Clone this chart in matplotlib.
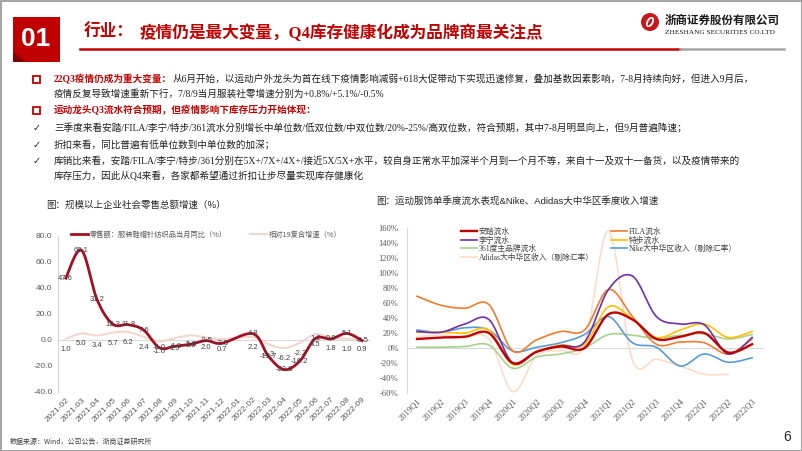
import numpy as np
import matplotlib as mpl
mpl.use('Agg')
import matplotlib.pyplot as plt
from matplotlib.patches import Rectangle, Circle, Polygon, Ellipse
from matplotlib.transforms import IdentityTransform

W, H = 802, 451
CJK = 'Noto Sans CJK SC'
SERIF = ['Liberation Serif', CJK, 'DejaVu Sans']
SANS = ['Liberation Sans', CJK, 'DejaVu Sans']
plt.rcParams['font.family'] = [CJK, 'DejaVu Sans']

# ---- left chart: monthly apparel retail growth
months = ['2021-02', '2021-03', '2021-04', '2021-05', '2021-06', '2021-07', '2021-08',
          '2021-09', '2021-10', '2021-11', '2021-12', '2022-01', '2022-02', '2022-03',
          '2022-04', '2022-05', '2022-06', '2022-07', '2022-08', '2022-09']
retail_yoy = [47.6, 69.1, 31.2, 12.3, 11.8, 7.6, -6.0, -4.8, -3.3, -0.5, -2.5, np.nan,
              4.8, -12.7, -22.8, -16.2, 1.2, 0.8, 5.1, -0.5]
retail_cagr19 = [1.0, 5.0, 3.4, 5.7, 6.2, 2.4, -1.0, 1.5, 3.5, 2.0, 0.7, np.nan,
                 2.2, -3.3, -6.2, -2.2, 4.5, 1.8, 1.0, 0.9]
left_names = ['零售额：服装鞋帽针纺织品当月同比（%）', '相对19复合增速（%）']

# ---- right chart: quarterly sell-through / revenue growth (%)
quarters = ['2019Q1', '2019Q2', '2019Q3', '2019Q4', '2020Q1', '2020Q2', '2020Q3', '2020Q4',
            '2021Q1', '2021Q2', '2021Q3', '2021Q4', '2022Q1', '2022Q2', '2022Q3']
anta = [12, 14, 15, 20, -20, -5, 2, 0, 45, 38, 12, 15, 20, -6, 5]
lining = [22, 21, 32, 38, -20, -5, 3, 8, 78, 96, 42, 32, 31, -8, 14]
b361 = [1, 1, 2, 4, -27, -12, -8, 0, 18, 17, 13, 17, 19, 12, 18]
adidas = [15, 17, 15, 12, -58, -10, -3, 5, 156, -16, -15, -24, -35, -35, np.nan]
fila = [69, 57, 53, 58, -4, 11, 22, 24, 78, 42, 5, 8, 7, -8, 12]
xtep = [21, 21, 20, 24, -22, -5, 4, 5, 55, 39, 14, 24, 32, 14, 22]
nike = [24, 21, 27, 24, -4, 1, 7, 18, 42, 7, 1, -24, -8, -19, -13]
right_names = ['安踏流水', '李宁流水', '361度主品牌流水', 'Adidas大中华区收入（剔除汇率）',
               'FILA流水', '特步流水', 'Nike大中华区收入（剔除汇率）']
right_colors = ['#c00000', '#7030a0', '#a9d18e', '#fbdccb', '#ed7d31', '#ffc000', '#5b9bd5']


def smooth(y, n=24):
    # Excel-like smoothed line (Bezier through the points)
    y = np.asarray(y, dtype=float)
    x = np.arange(len(y), dtype=float)
    m = ~np.isnan(y)
    pts = np.column_stack([x[m], y[m]])
    P = np.vstack([pts[0], pts, pts[-1]])
    out = []
    t = np.linspace(0, 1, n, endpoint=False)[:, None]
    for i in range(1, len(P) - 2):
        p0, p1, p2, p3 = P[i - 1], P[i], P[i + 1], P[i + 2]
        c1 = p1 + (p2 - p0) / 6
        c2 = p2 - (p3 - p1) / 6
        seg = ((1 - t) ** 3) * p1 + 3 * ((1 - t) ** 2) * t * c1 + 3 * (1 - t) * t ** 2 * c2 + t ** 3 * p2
        out.append(seg)
    out.append(pts[-1:])
    out = np.vstack(out)
    return out[:, 0], out[:, 1]


def fx(x):
    return x / W


def fy(y):
    return 1 - y / H


fig = plt.figure(figsize=(W / 100, H / 100), dpi=100)
renderer = fig.canvas.get_renderer()

# ---- slide frame and header
fig.patches.append(Rectangle((0.5, 0.5), W - 1, H - 1, transform=IdentityTransform(),
                             fill=False, edgecolor='#a6a6a6', lw=1.5))
fig.patches.append(Rectangle((13, H - 62), 47, 45, transform=IdentityTransform(),
                             facecolor='#c00000', edgecolor='none'))
fig.patches.append(Polygon([(13, H - 62), (26, H - 62), (13, H - 52)], closed=True,
                           transform=IdentityTransform(), facecolor='#7f0000', edgecolor='none'))
fig.text(fx(36), fy(39), '01', color='white', fontsize=19, fontweight='bold',
         family=['Liberation Sans Narrow', 'Liberation Sans'], ha='center', va='center')
fig.text(fx(84), fy(33), '行业：', color='#c00000', fontsize=12, fontweight='bold',
         family=SERIF, ha='left', va='center')
fig.text(fx(140), fy(33), '疫情仍是最大变量，Q4库存健康化成为品牌商最关注点', color='#c00000',
         fontsize=12, fontweight='bold', family=SERIF, ha='left', va='center')
fig.lines.append(plt.Line2D([fx(80), fx(680)], [fy(49), fy(49)], transform=fig.transFigure,
                            color='#c00000', lw=1.8))
fig.lines.append(plt.Line2D([fx(680), fx(784)], [fy(49), fy(49)], transform=fig.transFigure,
                            color='#a6a6a6', lw=1.8))

# logo
fig.patches.append(Circle((650, H - 22), 9, transform=IdentityTransform(),
                          facecolor='#c8161d', edgecolor='none'))
fig.patches.append(Ellipse((650, H - 22), 7, 11, angle=-30, transform=IdentityTransform(),
                           facecolor='white', edgecolor='none'))
fig.patches.append(Ellipse((650, H - 22), 3, 8, angle=-30, transform=IdentityTransform(),
                           facecolor='#c8161d', edgecolor='none'))
fig.text(fx(665), fy(20), '浙商证券股份有限公司', fontsize=8.3, fontweight='bold',
         color='#1a1a1a', ha='left', va='center')
fig.text(fx(665), fy(33), 'ZHESHANG SECURITIES CO.LTD', fontsize=5.2, family=SERIF,
         color='#1a1a1a', ha='left', va='center')

# ---- bullet text
BODY = 6.9
DARK = '#1f1f1f'
RED = '#c00000'


def seg_line(x, y, parts):
    for s, c, w in parts:
        t = fig.text(fx(x), fy(y), s, color=c, fontsize=BODY, fontweight=w,
                     family=SERIF, ha='left', va='center')
        x += t.get_window_extent(renderer).width


def square(y):
    fig.patches.append(Rectangle((33, H - y - 3.5), 7, 7, transform=IdentityTransform(),
                                 fill=False, edgecolor=RED, lw=1.3))


def check(y):
    fig.text(fx(33), fy(y), '✓', fontsize=7, color=DARK, family=['DejaVu Sans'],
             ha='left', va='center')


square(79)
seg_line(54, 79, [('22Q3疫情仍成为重大变量：', RED, 'bold'),
                  ('从6月开始，以运动户外龙头为首在线下疫情影响减弱+618大促带动下实现迅速修复，'
                   '叠加基数因素影响，7-8月持续向好，但进入9月后，', DARK, 'normal')])
seg_line(54, 94, [('疫情反复导致增速重新下行，7/8/9当月服装社零增速分别为+0.8%/+5.1%/-0.5%', DARK, 'normal')])
square(110)
seg_line(54, 110, [('运动龙头Q3流水符合预期，但疫情影响下库存压力开始体现：', RED, 'bold')])
check(128)
seg_line(54, 128, [('三季度来看安踏/FILA/李宁/特步/361流水分别增长中单位数/低双位数/中双位数/20%-25%/高双位数，'
                    '符合预期，其中7-8月明显向上，但9月普遍降速；', DARK, 'normal')])
check(145)
seg_line(54, 145, [('折扣来看，同比普遍有低单位数到中单位数的加深；', DARK, 'normal')])
check(161)
seg_line(54, 161, [('库销比来看，安踏/FILA/李宁/特步/361分别在5X+/7X+/4X+/接近5X/5X+水平，'
                    '较自身正常水平加深半个月到一个月不等，来自十一及双十一备货，以及疫情带来的', DARK, 'normal')])
seg_line(54, 176, [('库存压力，因此从Q4来看，各家都希望通过折扣让步尽量实现库存健康化', DARK, 'normal')])

# chart titles
fig.text(fx(46), fy(205), '图：规模以上企业社会零售总额增速（%）', fontsize=6.8, color='#262626',
         ha='left', va='center')
fig.text(fx(376), fy(201), '图：运动服饰单季度流水表现&Nike、Adidas大中华区季度收入增速',
         fontsize=6.8, color='#262626', family=SANS, ha='left', va='center')

# ---- left chart
ax1 = fig.add_axes([fx(58), fy(392), (370 - 58) / W, (392 - 236) / H])
xs, ys = smooth(retail_cagr19)
l2, = ax1.plot(xs, ys, color='#f2d6c9', lw=1.4, label=left_names[1], zorder=2)
xs, ys = smooth(retail_yoy)
l1, = ax1.plot(xs, ys, color='#a50f24', lw=2.0, label=left_names[0], zorder=3)
ax1.axhline(0, color='#d9d9d9', lw=0.8, zorder=1)
for i, v in enumerate(retail_yoy):
    if not np.isnan(v):
        ax1.text(i, v, f'{v:.1f}', fontsize=5.5, color='#404040', family=SANS,
                 ha='center', va='center', zorder=4)
for i, v in enumerate(retail_cagr19):
    if not np.isnan(v):
        ax1.annotate(f'{v:.1f}', (i, v), xytext=(0, -7.5), textcoords='offset points',
                     fontsize=5.5, color='#404040', family=SANS, ha='center', va='center', zorder=4)
ax1.set_xlim(-0.5, len(months) - 0.5)
ax1.set_ylim(-40, 80)
ax1.set_yticks(np.arange(-40, 81, 20))
ax1.set_yticklabels([f'{v:.1f}' for v in np.arange(-40, 81, 20)])
ax1.set_xticks(range(len(months)))
ax1.set_xticklabels(months, rotation=45, ha='right', rotation_mode='anchor')
for s in ['top', 'right', 'bottom']:
    ax1.spines[s].set_visible(False)
ax1.spines['left'].set_color('#d9d9d9')
ax1.tick_params(axis='both', length=0, labelsize=6.0, labelcolor='#595959')
ax1.tick_params(axis='x', pad=3)
ax1.tick_params(axis='y', pad=4)
for lab in ax1.get_xticklabels() + ax1.get_yticklabels():
    lab.set_family(SANS)
ax1.patch.set_alpha(0)
ax1.legend(handles=[l1, l2], ncol=2, loc='upper left', bbox_to_anchor=(fx(71), fy(231)),
           bbox_transform=fig.transFigure, frameon=False, fontsize=5.2, labelcolor='#595959',
           handlelength=2.4, handletextpad=0.2, columnspacing=3.2, borderpad=0, borderaxespad=0)

# ---- right chart
ax2 = fig.add_axes([fx(407), fy(393), (764 - 407) / W, (393 - 228) / H])
series = [anta, lining, b361, adidas, fila, xtep, nike]
order = [3, 2, 6, 4, 5, 1, 0]
handles = [None] * len(series)
for k in order:
    xs, ys = smooth(series[k])
    lw = 1.7 if k == 0 else 1.2
    handles[k], = ax2.plot(xs, ys, color=right_colors[k], lw=lw, label=right_names[k],
                           zorder=2 + order.index(k))
ax2.axhline(0, color='#d9d9d9', lw=0.8, zorder=1)
ax2.set_xlim(-0.42, 14.5)
ax2.set_ylim(-60, 160)
ax2.set_yticks(np.arange(-60, 161, 20))
ax2.set_yticklabels([f'{v}%' for v in np.arange(-60, 161, 20)])
ax2.set_xticks(range(len(quarters)))
ax2.set_xticklabels(quarters, rotation=45, ha='right', rotation_mode='anchor')
for s in ['top', 'right', 'bottom']:
    ax2.spines[s].set_visible(False)
ax2.spines['left'].set_color('#d9d9d9')
ax2.tick_params(axis='both', length=0, labelsize=6.2, labelcolor='#595959')
ax2.tick_params(axis='x', pad=3)
ax2.tick_params(axis='y', pad=6)
for lab in ax2.get_xticklabels() + ax2.get_yticklabels():
    lab.set_family(SERIF)
ax2.patch.set_alpha(0)
leg_kw = dict(loc='upper left', bbox_transform=fig.transFigure, frameon=False,
              labelcolor='#404040', handlelength=2.0, handletextpad=0.3, labelspacing=0.05,
              borderpad=0, borderaxespad=0, prop={'family': SERIF, 'size': 5.6})
leg_a = ax2.legend(handles=handles[:4], bbox_to_anchor=(fx(461), fy(228)), **leg_kw)
ax2.add_artist(leg_a)
ax2.legend(handles=handles[4:], bbox_to_anchor=(fx(611), fy(228)), **leg_kw)

# ---- footer
fig.text(fx(10), fy(442), '数据来源：Wind，公司公告，浙商证券研究所', fontsize=5, color='#404040',
         ha='left', va='center')
fig.text(fx(787), fy(437), '6', fontsize=10, color='#262626', family=SANS, ha='center', va='center')

fig.savefig('out.png', dpi=100)
